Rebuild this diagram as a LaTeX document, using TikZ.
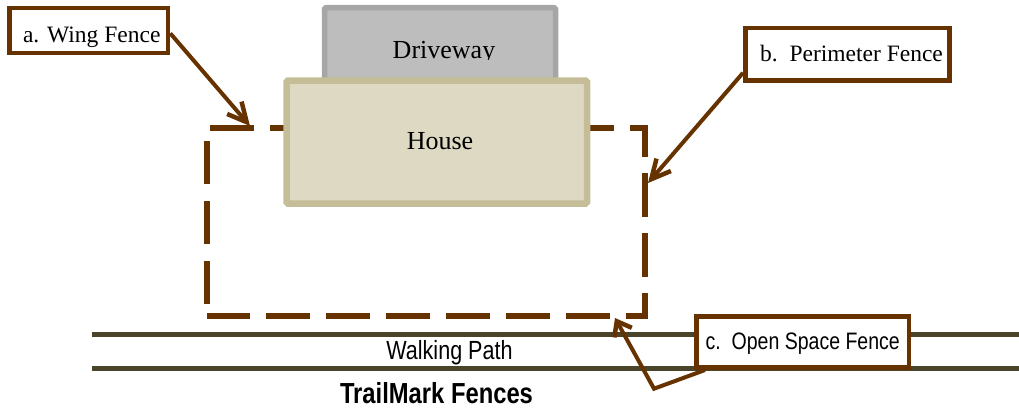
\documentclass[tikz,border=0pt]{standalone}
\usepackage{fontspec}
\setmainfont{Liberation Serif}
\newfontfamily\narrowsans[FakeStretch=0.82]{Liberation Sans}
\usetikzlibrary{arrows.meta}
\definecolor{fencebrown}{HTML}{663300}
\definecolor{pathgreen}{HTML}{4A452A}
\definecolor{houseedge}{HTML}{C4BD97}
\definecolor{housefill}{HTML}{DDD9C3}
\definecolor{driveedge}{HTML}{A6A6A6}
\definecolor{drivefill}{HTML}{BDBDBD}
\tikzset{
      fence line/.style={draw=fencebrown, line width=6.5pt, dash pattern=on 43.7pt off 16.3pt},
      path line/.style={draw=pathgreen, line width=5pt},
      pointer/.style={draw=fencebrown, line width=4pt, -{Straight Barb[length=19pt,width=19pt,line width=4.5pt]}},
      short pointer/.style={draw=fencebrown, line width=4pt, -{Straight Barb[length=13pt,width=20pt,line width=4.5pt]}},
      callout/.style={draw=fencebrown, fill=white, line width=4.6pt, inner sep=0pt, text depth=6pt},
      serif label/.style={font=\fontsize{23.5}{26}\selectfont},
      big label/.style={font=\fontsize{26}{30}\selectfont, inner sep=0pt}
}
\begin{document}
\begin{tikzpicture}[x=1pt, y=-1pt]
                  \useasboundingbox (0, 0) rectangle (1019, 408);
                  % walking path 
                  \draw [path line] (92, 334) -- (1019, 334);
                  \draw [path line] (92, 368) -- (1019, 368);
                  \node (walk) at (449.5, 353) [inner sep=0pt] {\narrowsans\fontsize{26.3}{28}\selectfont Walking Path};
                  \node (title) at (436.5, 393.5) [inner sep=0pt] {\narrowsans\fontsize{29}{30}\selectfont\bfseries TrailMark Fences};
                  % fence, the house sits on top of it
                  \draw [fence line] (210, 128) -- (645, 128) -- (645, 316) -- (626, 316);
                  \draw [fence line] (610, 316) -- (207, 316);
                  \draw [fence line] (207, 304.3) -- (207, 140.6);
                  % driveway and house
                  \node (driveway) at (440, 45) [draw=driveedge, fill=drivefill, line width=5.5pt, rounded corners=1.5pt, minimum width=231pt, minimum height=75pt] {};
                  \begin{scope}
                        \clip (322, 0) rectangle (558, 59);
                        \node (drivetext) at (444, 52.5) [big label] {Driveway};
                  \end{scope}
                  \node (house) at (436.75, 142) [draw=houseedge, fill=housefill, line width=6.5pt, rounded corners=1.5pt, minimum width=300.5pt, minimum height=123pt] {};
                  \node (housetext) at (440, 141) [big label] {House};
                  % callouts
                  \node (wingbox) at (88.75, 30.5) [callout, serif label, text height=30pt, minimum width=158.5pt, minimum height=45pt] {\hspace{6pt}a. Wing Fence};
                  \node (perimbox) at (847.5, 54.4) [callout, serif label, text height=20.6pt, minimum width=204.4pt, minimum height=52.7pt] {\hspace{8pt}b.\ \ Perimeter Fence};
                  \node (openbox) at (802.7, 342) [callout, text height=20.6pt, minimum width=212.5pt, minimum height=51.5pt] {\narrowsans\fontsize{23.8}{28}\selectfont c.\ \ Open Space Fence};
                  % where the arrows land
                  \coordinate (wingtip) at (250, 126);
                  \coordinate (perimtip) at (648, 183);
                  \coordinate (opentip) at (615, 318);
                  \coordinate (openbend) at (654, 388.7);
                  \draw [pointer] (wingbox.-2) -- (wingtip);
                  \draw [pointer] (perimbox.190) -- (perimtip);
                  \draw [short pointer] (openbox.196) -- (openbend) -- (opentip);
            \end{tikzpicture}
\end{document}
